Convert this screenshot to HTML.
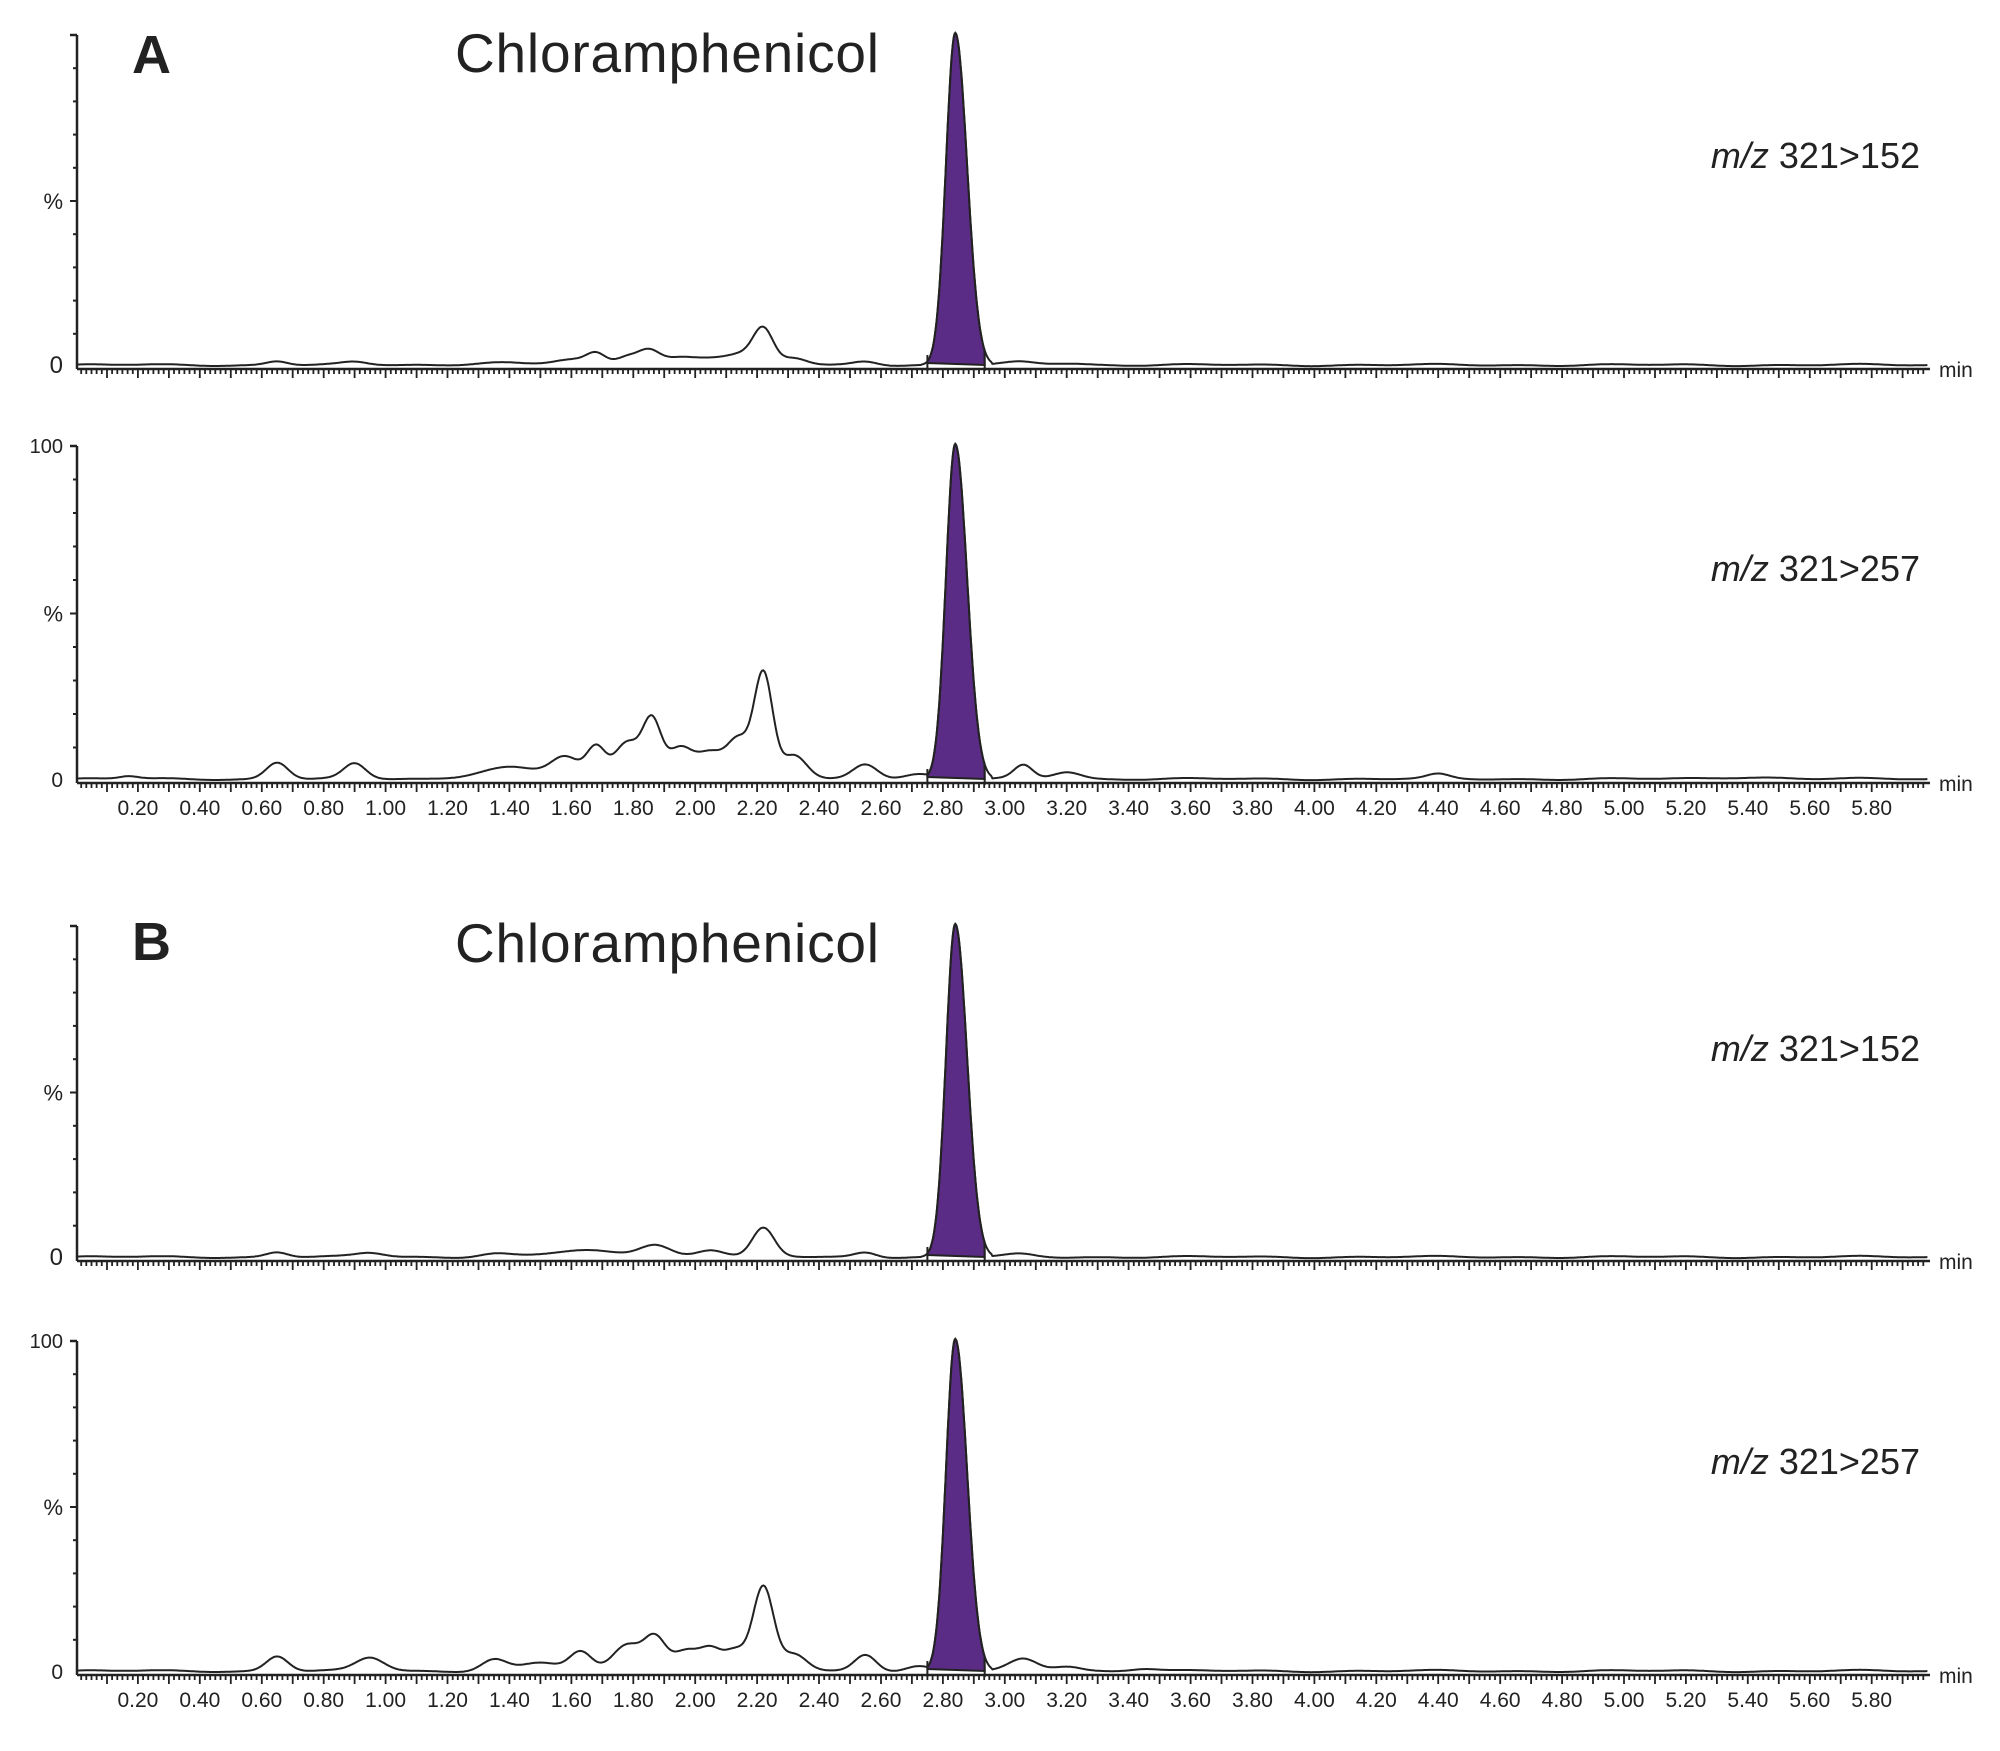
<!DOCTYPE html>
<html><head><meta charset="utf-8"><style>
html,body{margin:0;padding:0;background:#fff;}
svg{display:block;font-family:"Liberation Sans",Arial,sans-serif;}
</style></head><body>
<svg id="s" width="2000" height="1751" viewBox="0 0 2000 1751" xmlns="http://www.w3.org/2000/svg">
<text x="132" y="73" font-size="54" font-weight="bold" fill="#222">A</text>
<text x="455" y="72" font-size="55" fill="#222" textLength="424">Chloramphenicol</text>
<text x="132" y="960" font-size="54" font-weight="bold" fill="#222">B</text>
<text x="455" y="962" font-size="55" fill="#222" textLength="424">Chloramphenicol</text>
<g id="g"></g>
</svg>
<script>
var NS="http://www.w3.org/2000/svg",g=document.getElementById('g');
function el(t,a,txt){var e=document.createElementNS(NS,t);for(var k in a)e.setAttribute(k,a[k]);if(txt!=null)e.textContent=txt;g.appendChild(e);return e;}
function X(t){return 76+t*309.6;}
var panels=[
 {top:35,base:367,lab:"321>152",labY:168,top100:false,xl:false,
  pk:[[0.65,1.2,.035],[0.9,.8,.04],[1.35,.8,.08],[1.6,1.5,.06],[1.68,3,.03],[1.78,2.5,.035],[1.85,4.5,.035],[1.95,2.2,.05],[2.05,1.8,.05],[2.15,3,.05],[2.22,10,.032],[2.32,2,.04],[2.55,1.2,.04],[3.05,.8,.05],[3.2,.6,.06]]},
 {top:446,base:781,lab:"321>257",labY:581,top100:true,xl:true,
  pk:[[0.17,.8,.03],[0.65,5,.035],[0.9,4.5,.035],[1.4,3.5,.1],[1.58,6,.045],[1.68,9,.03],[1.78,11,.04],[1.86,17,.03],[1.95,9,.04],[2.05,8,.045],[2.14,11,.035],[2.22,31,.03],[2.32,7,.04],[2.55,4.5,.04],[2.72,1.5,.05],[3.06,4,.03],[3.2,2.2,.045],[4.4,1.3,.035],[5.4,.6,.1]]},
 {top:926,base:1259,lab:"321>152",labY:1061,top100:false,xl:false,
  pk:[[0.65,1.5,.035],[0.95,1.2,.045],[1.35,1,.05],[1.65,1.8,.12],[1.87,3.5,.05],[2.05,2.2,.045],[2.22,8.5,.035],[2.55,1.5,.035],[3.05,.8,.045]]},
 {top:1341,base:1673,lab:"321>257",labY:1474,top100:true,xl:true,
  pk:[[0.65,4.5,.035],[0.95,4,.045],[1.35,3.5,.04],[1.5,2.5,.06],[1.63,5.5,.035],[1.78,8,.045],[1.87,10,.035],[1.97,6,.04],[2.05,6.5,.035],[2.13,6,.035],[2.22,25,.033],[2.32,5,.04],[2.55,5,.035],[2.72,1.5,.04],[3.06,3.5,.045],[3.2,1.5,.045],[3.45,.8,.045]]}
];
var PC=2.84;
panels.forEach(function(p){
 var H=p.base-p.top, ax=p.base+2;
 el('line',{x1:77,y1:p.top,x2:77,y2:ax,stroke:'#222','stroke-width':2.5});
 el('line',{x1:70,y1:p.top,x2:77,y2:p.top,stroke:'#222','stroke-width':2.5});
 for(var i=1;i<10;i++){var yy=p.base-H*i/10;el('line',{x1:i==5?70:73,y1:yy,x2:77,y2:yy,stroke:'#222','stroke-width':2});}
 el('text',{x:63,y:p.base-H/2+8,'font-size':22,'text-anchor':'end',fill:'#222'},'%');
 el('text',{x:63,y:p.base+6,'font-size':p.top100?21:24,'text-anchor':'end',fill:'#222'},'0');
 if(p.top100)el('text',{x:63,y:p.top+7,'font-size':20,'text-anchor':'end',fill:'#222'},'100');
 el('line',{x1:77,y1:ax,x2:1930,y2:ax,stroke:'#222','stroke-width':2.5});
 var d='';
 for(var k=1;k<360;k++){var t=k/60,x=X(t);if(x>1928)break;var L=(k%6==0)?9:5;d+='M'+x.toFixed(1)+' '+ax+'v'+L;}
 el('path',{d:d,stroke:'#222','stroke-width':1.8,fill:'none'});
 el('text',{x:1939,y:ax+8,'font-size':21,fill:'#222'},'min');
 if(p.xl){for(var j=1;j<30;j++){var t=j*0.2;el('text',{x:X(t),y:ax+32,'font-size':21,'text-anchor':'middle',fill:'#222'},t.toFixed(2));}}
 var lt=el('text',{x:1920,y:p.labY,'font-size':36,'text-anchor':'end',fill:'#222'});
 var ts=document.createElementNS(NS,'tspan');ts.setAttribute('font-style','italic');ts.textContent='m/z';lt.appendChild(ts);
 lt.appendChild(document.createTextNode(' '+p.lab));
 function f(t){var v=0.6+0.2*Math.sin(t*9)+0.15*Math.sin(t*23+1);p.pk.forEach(function(q){v+=q[1]*Math.exp(-Math.pow((t-q[0])/q[2],2)/2);});return v;}
 function pk(t){var s=t<PC?0.03:0.038;return 100*Math.exp(-Math.pow((t-PC)/s,2)/2);}
 var line='',first=true;
 for(var i=0;;i++){var t=i*0.004;if(t>5.98)break;var y=p.base-H*f(t)/100;
  if(t>2.73&&t<2.96){y=Math.min(y,p.base-H*pk(t)/100-2);}
  line+=(first?'M':'L')+X(t).toFixed(1)+' '+y.toFixed(1);first=false;}
 var a=2.75,b=2.935;
 var fd='M'+X(a)+' '+(p.base-4);
 for(var t=a;t<=b;t+=0.002){fd+='L'+X(t).toFixed(1)+' '+(p.base-H*pk(t)/100-2).toFixed(1);}
 fd+='L'+X(b)+' '+(p.base-2)+'Z';
 el('path',{d:fd,fill:'#5b2c86',stroke:'#222','stroke-width':2});
 el('path',{d:line,fill:'none',stroke:'#222','stroke-width':2});
 el('line',{x1:X(a),y1:p.base-12,x2:X(a),y2:p.base+4,stroke:'#222','stroke-width':2});
 el('line',{x1:X(b),y1:p.base-12,x2:X(b),y2:p.base+4,stroke:'#222','stroke-width':2});
});
</script>
</body></html>
